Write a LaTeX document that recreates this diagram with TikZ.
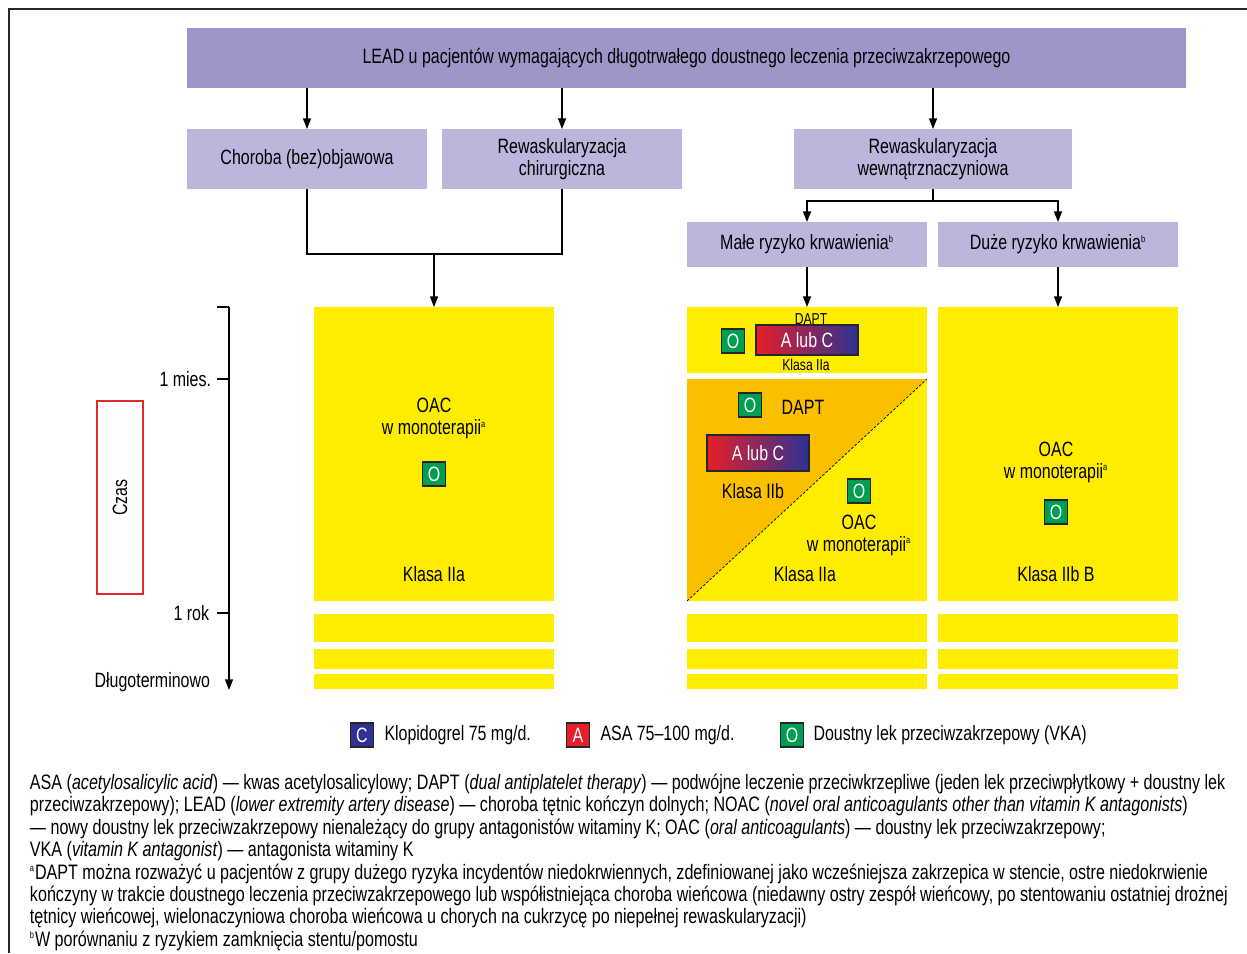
\documentclass[tikz,border=0pt]{standalone}
\usepackage{fontspec}
\setmainfont{Liberation Sans}[FakeStretch=0.77]
\usetikzlibrary{arrows.meta, positioning}

\definecolor{leadpurple}{RGB}{157,150,201}
\definecolor{catpurple}{RGB}{187,182,220}
\definecolor{ylw}{RGB}{255,237,0}
\definecolor{orng}{RGB}{250,192,0}
\definecolor{ogreen}{RGB}{0,158,80}
\definecolor{cblue}{RGB}{46,49,146}
\definecolor{ared}{RGB}{230,30,40}
\definecolor{czasred}{RGB}{225,40,45}

\newcommand{\fnmark}[1]{\textsuperscript{\fontsize{5.5}{5.5}\selectfont #1}}

\begin{document}
\begin{tikzpicture} [%
    x = 0.02cm, y = -0.02cm,
    >= {Triangle[length=6pt, width=4.5pt]},
    font = \fontsize{11.8}{12.6}\selectfont,
    every node/.style = {inner sep=0pt, outer sep=0pt},
    leadbox/.style = {%
      fill = leadpurple,
      minimum width = 19.98cm, minimum height = 1.2cm },
    catbox/.style = {%
      fill = catpurple, align = center,
      minimum width = 4.8cm, minimum height = 1.2cm },
    riskbox/.style = {%
      fill = catpurple,
      minimum width = 4.8cm, minimum height = 0.9cm },
    therapy/.style = {fill = ylw, minimum width = 4.8cm},
    drug/.style = {%
      draw = black!85, line width = 0.6pt, text = white,
      minimum width = 0.46cm, minimum height = 0.48cm },
    obox/.style = {drug, fill = ogreen},
    abox/.style = {drug, fill = ared},
    cbox/.style = {drug, fill = cblue},
    aorc/.style = {%
      draw = black!85, line width = 0.6pt, text = white,
      left color = ared, right color = cblue,
      minimum width = 2.04cm },
    conn/.style = {line width = 0.8pt},
    arr/.style = {conn, ->},
    small/.style = {font = \fontsize{9}{10}\selectfont}
  ]

\useasboundingbox (0,0) rectangle (1247,953);
\draw[line width=1.2pt, black!85] (9,953) -- (9,9) -- (1247,9);

% decision boxes
\node[leadbox]  (lead) at (686.5,58)  {LEAD u pacjentów wymagających długotrwałego doustnego leczenia przeciwzakrzepowego};
\node[catbox]   (chor) at (307,159)   {Choroba (bez)objawowa};
\node[catbox]   (chir) at (562,159)   {Rewaskularyzacja\\chirurgiczna};
\node[catbox, minimum width=5.56cm] (wewn) at (933,159) {Rewaskularyzacja\\wewnątrznaczyniowa};
\node[riskbox]  (male) at (807,244.5) {Małe ryzyko krwawienia\fnmark{b}};
\node[riskbox]  (duze) at (1058,244.5) {Duże ryzyko krwawienia\fnmark{b}};

% therapy columns
\node[therapy, minimum height=5.88cm] (oacL)  at (434,454)  {};
\node[therapy, minimum height=1.32cm] (daptA) at (807,340)  {};
\node[therapy, minimum height=4.44cm] (daptB) at (807,490)  {};
\node[therapy, minimum height=5.88cm] (oacR)  at (1058,454) {};
\fill[orng] (daptB.north west) -- (daptB.north east) -- (daptB.south west) -- cycle;
\draw[dash pattern=on 1.5pt off 1pt, line width=0.4pt] (daptB.south west) -- (daptB.north east);

\foreach \col/\cx in {L/434, M/807, R/1058}
  \foreach \row/\cy/\h in {1/628/0.56cm, 2/659/0.4cm, 3/681.5/0.3cm}
    \node[therapy, minimum height=\h] (strip\col\row) at (\cx,\cy) {};

% connectors
\foreach \n in {chor, chir, wewn}
  \draw[arr] (lead.south -| \n.north) -- (\n.north);
\coordinate (join) at (434,254);
\draw[conn] (chor.south) |- (join) -| (chir.south);
\draw[arr] (join) -- (oacL.north);
\coordinate (split) at (933,201);
\draw[conn] (wewn.south) -- (split);
\draw[arr] (split) -| (male.north);
\draw[arr] (split) -| (duze.north);
\draw[arr] (male.south) -- (daptA.north);
\draw[arr] (duze.south) -- (oacR.north);

% left column
\node[align=center] (oacLt) at (434,418.5) {OAC\\w monoterapii\fnmark{a}};
\node[obox] (oL)  at (434,474) {O};
\node       (klL) at (434,574) {Klasa IIa};

% middle column
\node[small] (daptAt) at (811,319) {DAPT};
\node[obox]  (oA)     at (733,341) {O};
\node[aorc, minimum height=0.6cm] (acA) at (807,340) {A lub C};
\node[small] (klA)    at (806,365) {Klasa IIa};

\node[obox]  (oB)     at (750,405) {O};
\node        (daptBt) at (803,407) {DAPT};
\node[aorc, minimum height=0.72cm] (acB) at (758,453) {A lub C};
\node        (klB)    at (753,491) {Klasa IIb};
\node[obox]  (oB2)    at (859,491) {O};
\node[align=center] (oacMt) at (859,535) {OAC\\w monoterapii\fnmark{a}};
\node        (klM)    at (805,574) {Klasa IIa};

% right column
\node[align=center] (oacRt) at (1056,462) {OAC\\w monoterapii\fnmark{a}};
\node[obox] (oR)  at (1056,512) {O};
\node       (klR) at (1056,574) {Klasa IIb B};

% time axis
\coordinate (tTop) at (229,307);
\coordinate (tEnd) at (229,690);
\draw[arr] (tTop) -- (tEnd);
\draw[conn] (217,307) -- (tTop);
\draw[conn] (217,379) -- (229,379);
\draw[conn] (217,613) -- (229,613);
\node[anchor=east] (mies)  at (211,379) {1 mies.};
\node[anchor=east] (rok)   at (209,613) {1 rok};
\node[anchor=east] (dlugo) at (210,682) {Długoterminowo};
\node[draw=czasred, line width=0.6pt, minimum width=0.92cm, minimum height=3.86cm] (czas) at (120,497.5) {};
\node[rotate=90] (czast) at (czas) {Czas};

% legend
\node[cbox] (legC) at (362,735) {C};
\node[right=0.22cm of legC] (legCt) {Klopidogrel 75 mg/d.};
\node[abox] (legA) at (578,735) {A};
\node[right=0.22cm of legA] (legAt) {ASA 75–100 mg/d.};
\node[obox] (legO) at (792,735) {O};
\node[right=0.2cm of legO] (legOt) {Doustny lek przeciwzakrzepowy (VKA)};

% abbreviations and footnotes
\node[anchor=north west, align=left, font=\fontsize{11.9}{12.75}\selectfont] (notes) at (30,774) {%
ASA (\textit{acetylosalicylic acid}) — kwas acetylosalicylowy; DAPT (\textit{dual antiplatelet therapy}) — podwójne leczenie przeciwkrzepliwe (jeden lek przeciwpłytkowy\ +\ doustny lek\\
przeciwzakrzepowy); LEAD (\textit{lower extremity artery disease}) — choroba tętnic kończyn dolnych; NOAC (\textit{novel oral anticoagulants other than vitamin K antagonists})\\
— nowy doustny lek przeciwzakrzepowy nienależący do grupy antagonistów witaminy K; OAC (\textit{oral anticoagulants}) — doustny lek przeciwzakrzepowy;\\
VKA (\textit{vitamin K antagonist}) — antagonista witaminy K\\
\fnmark{a}DAPT można rozważyć u pacjentów z grupy dużego ryzyka incydentów niedokrwiennych, zdefiniowanej jako wcześniejsza zakrzepica w stencie, ostre niedokrwienie\\
kończyny w trakcie doustnego leczenia przeciwzakrzepowego lub współistniejąca choroba wieńcowa (niedawny ostry zespół wieńcowy, po stentowaniu ostatniej drożnej\\
tętnicy wieńcowej, wielonaczyniowa choroba wieńcowa u chorych na cukrzycę po niepełnej rewaskularyzacji)\\
\fnmark{b}W porównaniu z ryzykiem zamknięcia stentu/pomostu};

\end{tikzpicture}
\end{document}
